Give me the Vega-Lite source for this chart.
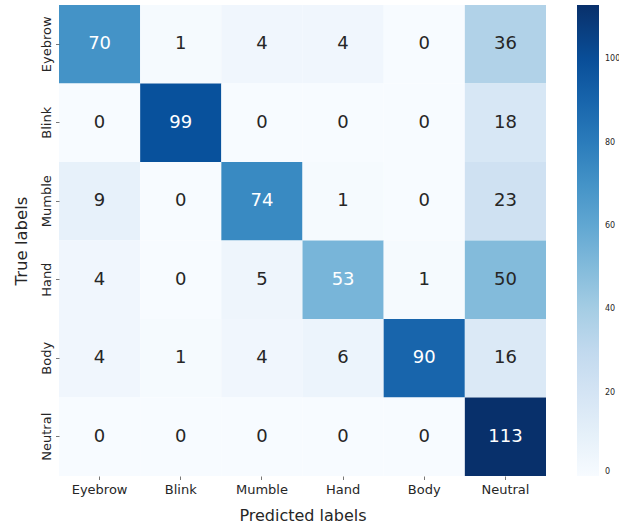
{
  "$schema": "https://vega.github.io/schema/vega-lite/v6.json",
  "width": 487,
  "height": 471,
  "autosize": {"type": "none"},
  "padding": {"left": 59, "top": 5, "right": 73, "bottom": 54},
  "background": "white",
  "config": {
    "view": {"stroke": null},
    "font": "DejaVu Sans",
    "axis": {"labelFont": "DejaVu Sans", "titleFont": "DejaVu Sans", "titleFontWeight": "normal", "labelColor": "#262626", "titleColor": "#262626", "tickColor": "#555555", "domain": false, "tickSize": 3.5, "tickWidth": 0.8}
  },
  "data": {
    "values": [
      {"true": "Eyebrow", "pred": "Eyebrow", "count": 70},
      {"true": "Eyebrow", "pred": "Blink", "count": 1},
      {"true": "Eyebrow", "pred": "Mumble", "count": 4},
      {"true": "Eyebrow", "pred": "Hand", "count": 4},
      {"true": "Eyebrow", "pred": "Body", "count": 0},
      {"true": "Eyebrow", "pred": "Neutral", "count": 36},
      {"true": "Blink", "pred": "Eyebrow", "count": 0},
      {"true": "Blink", "pred": "Blink", "count": 99},
      {"true": "Blink", "pred": "Mumble", "count": 0},
      {"true": "Blink", "pred": "Hand", "count": 0},
      {"true": "Blink", "pred": "Body", "count": 0},
      {"true": "Blink", "pred": "Neutral", "count": 18},
      {"true": "Mumble", "pred": "Eyebrow", "count": 9},
      {"true": "Mumble", "pred": "Blink", "count": 0},
      {"true": "Mumble", "pred": "Mumble", "count": 74},
      {"true": "Mumble", "pred": "Hand", "count": 1},
      {"true": "Mumble", "pred": "Body", "count": 0},
      {"true": "Mumble", "pred": "Neutral", "count": 23},
      {"true": "Hand", "pred": "Eyebrow", "count": 4},
      {"true": "Hand", "pred": "Blink", "count": 0},
      {"true": "Hand", "pred": "Mumble", "count": 5},
      {"true": "Hand", "pred": "Hand", "count": 53},
      {"true": "Hand", "pred": "Body", "count": 1},
      {"true": "Hand", "pred": "Neutral", "count": 50},
      {"true": "Body", "pred": "Eyebrow", "count": 4},
      {"true": "Body", "pred": "Blink", "count": 1},
      {"true": "Body", "pred": "Mumble", "count": 4},
      {"true": "Body", "pred": "Hand", "count": 6},
      {"true": "Body", "pred": "Body", "count": 90},
      {"true": "Body", "pred": "Neutral", "count": 16},
      {"true": "Neutral", "pred": "Eyebrow", "count": 0},
      {"true": "Neutral", "pred": "Blink", "count": 0},
      {"true": "Neutral", "pred": "Mumble", "count": 0},
      {"true": "Neutral", "pred": "Hand", "count": 0},
      {"true": "Neutral", "pred": "Body", "count": 0},
      {"true": "Neutral", "pred": "Neutral", "count": 113}
    ]
  },
  "encoding": {
    "x": {
      "field": "pred", "type": "nominal",
      "sort": ["Eyebrow", "Blink", "Mumble", "Hand", "Body", "Neutral"],
      "scale": {"paddingInner": 0, "paddingOuter": 0},
      "axis": {"title": "Predicted labels", "labelAngle": 0, "labelFontSize": 13, "labelPadding": 4, "titleFontSize": 16, "titlePadding": 11}
    },
    "y": {
      "field": "true", "type": "nominal",
      "sort": ["Eyebrow", "Blink", "Mumble", "Hand", "Body", "Neutral"],
      "scale": {"paddingInner": 0, "paddingOuter": 0},
      "axis": {"title": "True labels", "labelAngle": 270, "labelFontSize": 13, "labelPadding": 2, "titleFontSize": 16.5, "titlePadding": 11}
    }
  },
  "layer": [
    {
      "mark": {"type": "rect", "strokeWidth": 0},
      "encoding": {
        "color": {
          "field": "count", "type": "quantitative",
          "scale": {
            "domain": [0, 14.125, 28.25, 42.375, 56.5, 70.625, 84.75, 98.875, 113],
            "range": ["#f7fbff", "#deebf7", "#c6dbef", "#9ecae1", "#6baed6", "#4292c6", "#2171b5", "#08519c", "#08306b"]
          },
          "legend": {
            "title": null,
            "orient": "none",
            "legendX": 518,
            "legendY": 0,
            "direction": "vertical",
            "gradientLength": 471,
            "gradientThickness": 22,
            "gradientStrokeWidth": 0,
            "values": [0, 20, 40, 60, 80, 100],
            "labelFontSize": 8,
            "labelColor": "#262626",
            "labelOffset": 6,
            "labelFont": "DejaVu Sans"
          }
        }
      }
    },
    {
      "mark": {"type": "text", "fontSize": 18, "font": "DejaVu Sans"},
      "encoding": {
        "text": {"field": "count", "type": "quantitative"},
        "color": {
          "condition": {"test": "datum.count > 51", "value": "white"},
          "value": "#262626"
        }
      }
    }
  ]
}
